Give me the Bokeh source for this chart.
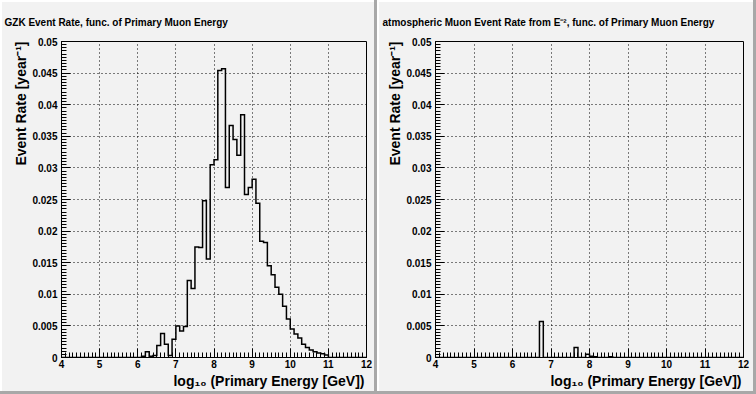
import numpy as np
from bokeh.plotting import figure
from bokeh.layouts import row
from bokeh.models import FixedTicker, CustomJSTickFormatter, Range1d, Title
from bokeh.embed import file_html
from bokeh.resources import INLINE

# ---------------- data ----------------
x_lo, x_hi, n_bins = 4.0, 12.0, 80          # histogram binning (bin width 0.1)
y_lo, y_hi = 0.0, 0.05

x_tick_values = [4, 5, 6, 7, 8, 9, 10, 11, 12]
y_tick_values = [0, 0.005, 0.01, 0.015, 0.02, 0.025, 0.03, 0.035, 0.04, 0.045, 0.05]

# GZK event rate per bin, bins 4.0-4.1 ... 11.9-12.0
gzk_rate = [
    0, 0, 0, 0, 0, 0, 0, 0, 0, 0,                                                    # 4.x
    0, 0, 0, 0, 0, 0, 0, 0, 0, 0,                                                    # 5.x
    0, 0.0002, 0.0009, 0.0002, 0.0003, 0.0019, 0.0038, 0.0021, 0.0003, 0.0029,      # 6.x
    0.0050, 0.0042, 0.0049, 0.0122, 0.0109, 0.0175, 0.0174, 0.0248, 0.0156, 0.0305, # 7.x
    0.0313, 0.0454, 0.0457, 0.0269, 0.0367, 0.0345, 0.0320, 0.0384, 0.0258, 0.0269, # 8.x
    0.0282, 0.0244, 0.0184, 0.0182, 0.0145, 0.0131, 0.0111, 0.0100, 0.0081, 0.0061, # 9.x
    0.0045, 0.0037, 0.0031, 0.0021, 0.0016, 0.0012, 0.0009, 0.0007, 0.0006, 0.0004, # 10.x
    0, 0, 0, 0, 0, 0, 0, 0, 0, 0,                                                    # 11.x
]

# atmospheric muon event rate (E^-2) per bin
atm_rate = [
    0, 0, 0, 0, 0, 0, 0, 0, 0, 0,                                # 4.x
    0, 0, 0, 0, 0, 0, 0, 0, 0, 0,                                # 5.x
    0, 0, 0, 0, 0, 0, 0, 0.0057, 0, 0,                           # 6.x
    0, 0, 0, 0, 0, 0, 0.0016, 0, 0, 0.0005,                      # 7.x
    0.0002, 0.0001, 0, 0, 0, 0.0001, 0, 0, 0, 0,                 # 8.x
    0, 0, 0, 0, 0, 0, 0, 0, 0, 0,                                # 9.x
    0, 0, 0, 0, 0, 0, 0, 0, 0, 0,                                # 10.x
    0, 0, 0, 0, 0, 0, 0, 0, 0, 0,                                # 11.x
]

titles = ["GZK Event Rate, func. of Primary Muon Energy",
          "atmospheric Muon Event Rate from E\u207b\u00b2, func. of Primary Muon Energy"]
y_title = "Event Rate [year\u207b\u00b9]"
x_title = "log\u2081\u2080 (Primary Energy [GeV])"

FONT = "Liberation Sans"
PAD = "#f2f2f2"

edges = np.linspace(x_lo, x_hi, n_bins + 1)


def make_panel(rate, title, width, border_left, border_right, title_offset):
    p = figure(width=width, height=394, output_backend="svg", toolbar_location=None,
               min_border_left=border_left, min_border_right=border_right,
               min_border_top=40, min_border_bottom=37,
               x_range=Range1d(x_lo, x_hi), y_range=Range1d(y_lo, y_hi),
               border_fill_color=None, background_fill_color=PAD,
               outline_line_color="black", outline_line_width=1,
               styles={"background-color": PAD,
                       "box-shadow": "inset -3px -3px 0 #a8a8a8, inset 2px 2px 0 #ffffff"})

    p.title.text = title
    p.title.align = "left"
    p.title.offset = title_offset
    p.title.standoff = 28
    p.title.text_font = FONT
    p.title.text_font_style = "bold"
    p.title.text_font_size = "10px"
    p.title.text_color = "black"

    ys = list(rate) + [rate[-1]]
    p.step(edges, ys, mode="after", line_color="black", line_width=1.5, line_join="miter")

    xt = FixedTicker(ticks=x_tick_values,
                     minor_ticks=[round(v, 2) for v in np.arange(x_lo, x_hi + 1e-9, 0.1)])
    yt = FixedTicker(ticks=y_tick_values,
                     minor_ticks=[round(v, 5) for v in np.arange(y_lo, y_hi + 1e-9, 0.0005)])
    p.xaxis.ticker = xt
    p.yaxis.ticker = yt
    p.xgrid.ticker = xt
    p.ygrid.ticker = yt
    p.yaxis.formatter = CustomJSTickFormatter(code="return Number(tick.toFixed(4)).toString();")
    p.xaxis.formatter = CustomJSTickFormatter(code="return Number(tick.toFixed(1)).toString();")

    for ax in (p.xaxis[0], p.yaxis[0]):
        ax.major_tick_in = 9
        ax.major_tick_out = 0
        ax.minor_tick_in = 5
        ax.minor_tick_out = 0
        ax.axis_line_color = "black"
        ax.major_tick_line_color = "black"
        ax.minor_tick_line_color = "black"
        ax.major_label_text_font = FONT
        ax.major_label_text_font_style = "bold"
        ax.major_label_text_font_size = "10px"
        ax.major_label_text_color = "black"
    p.xaxis.major_label_standoff = 2
    p.yaxis.major_label_standoff = 4

    # axis titles as right-aligned titles in the side panels (ROOT style)
    xt_title = Title(text=x_title, align="right", offset=2, standoff=0,
                     text_font=FONT, text_font_style="bold", text_font_size="14px",
                     text_color="black")
    yt_title = Title(text=y_title, align="right", offset=0, standoff=2,
                     text_font=FONT, text_font_style="bold", text_font_size="14px",
                     text_color="black")
    p.add_layout(xt_title, "below")
    p.add_layout(yt_title, "left")

    for g in (p.xgrid[0], p.ygrid[0]):
        g.grid_line_color = "black"
        g.grid_line_alpha = 1.0
        g.grid_line_width = 1
        g.grid_line_dash = "1 3"
    return p


p1 = make_panel(gzk_rate, titles[0], 377, 61, 11, title_offset=-57)
p2 = make_panel(atm_rate, titles[1], 379, 58, 13, title_offset=-53)

layout = row(p1, p2, spacing=0)
open("out.html", "w").write(file_html(layout, INLINE))
